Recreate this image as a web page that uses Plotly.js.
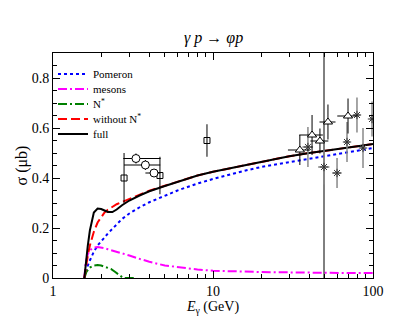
<!DOCTYPE html>
<html>
<head>
<meta charset="utf-8">
<script src="https://cdn.plot.ly/plotly-3.0.1.min.js"></script>
<style>
  html, body { margin: 0; padding: 0; background: #ffffff; }
  #chart { width: 415px; height: 321px; }
</style>
</head>
<body>
<div id="chart"></div>
<script>
// photon energy grid for the model curves (GeV)
var eCurve = [1.57, 1.6, 1.65, 1.7, 1.75, 1.8, 1.9, 2.0, 2.1, 2.2, 2.35, 2.5, 2.7, 3.0, 3.5, 4, 5, 6, 7, 8, 10, 13, 16, 20, 25, 30, 40, 50, 60, 70, 80, 100];
var pomeron = [0, 0.02, 0.05, 0.07, 0.09, 0.105, 0.13, 0.145, 0.162, 0.178, 0.198, 0.214, 0.236, 0.258, 0.284, 0.303, 0.33, 0.35, 0.365, 0.378, 0.396, 0.416, 0.43, 0.444, 0.455, 0.464, 0.478, 0.488, 0.496, 0.503, 0.509, 0.52];
var mesons = [0, 0.06, 0.095, 0.11, 0.117, 0.121, 0.124, 0.122, 0.119, 0.115, 0.11, 0.104, 0.098, 0.09, 0.076, 0.065, 0.05, 0.043, 0.038, 0.034, 0.029, 0.026, 0.025, 0.024, 0.023, 0.022, 0.021, 0.021, 0.02, 0.02, 0.02, 0.02];
var withoutN = [0, 0.04, 0.09, 0.13, 0.16, 0.185, 0.222, 0.245, 0.262, 0.273, 0.286, 0.295, 0.304, 0.316, 0.333, 0.349, 0.369, 0.386, 0.399, 0.41, 0.425, 0.44, 0.452, 0.465, 0.477, 0.487, 0.5, 0.508, 0.515, 0.521, 0.527, 0.536];
var full = [0, 0.06, 0.13, 0.19, 0.235, 0.262, 0.278, 0.276, 0.27, 0.264, 0.264, 0.274, 0.291, 0.31, 0.331, 0.347, 0.368, 0.385, 0.398, 0.41, 0.425, 0.44, 0.452, 0.465, 0.477, 0.487, 0.5, 0.508, 0.515, 0.521, 0.527, 0.536];

var eNstar = [1.57, 1.62, 1.7, 1.8, 1.9, 2.0, 2.1, 2.2, 2.3, 2.45, 2.6, 2.75, 3.0, 3.3];
var nstar = [0, 0.025, 0.042, 0.05, 0.052, 0.05, 0.045, 0.04, 0.036, 0.024, 0.01, 0, 0, 0];

// data sets
var sqE = [2.78, 4.66, 9.17];
var sqS = [0.40, 0.41, 0.55];
var sqErr = [0.10, 0.075, 0.065];

var ciE = [3.30, 3.78, 4.28];
var ciS = [0.478, 0.452, 0.42];
var ciErr = [0.02, 0.02, 0.015];
var ciEplus = [1.4, 0.9, 0.4];
var ciEminus = [0.55, 1.0, 0.5];

var trE = [34.9, 41.6, 46.6, 52.3, 69.8];
var trS = [0.512, 0.572, 0.548, 0.624, 0.648];
var trErr = [0.06, 0.08, 0.05, 0.07, 0.07];
var trEerr = [5.5, 7, 6, 6, 10];

var stE = [39.2, 49.4, 59.6, 68.8, 79.4, 86.6, 98.6];
var stS = [0.524, 0.444, 0.42, 0.544, 0.652, 0.52, 0.636];
var stErr = [0.08, 0.07, 0.06, 0.08, 0.07, 0.08, 0.07];
var stEerr = [3, 4, 4, 3, 4, 3, 3];

var wideE = [49.4];
var wideS = [0.45];
var wideErr = [0.5];

var xMinor = [2, 3, 4, 5, 6, 7, 8, 9, 20, 30, 40, 50, 60, 70, 80, 90];

var serif = 'Liberation Serif';

// one legend per entry so the rows sit as close as in the original
var legY = [0.907, 0.84, 0.773, 0.707, 0.64];
var legNames = ['legend', 'legend2', 'legend3', 'legend4', 'legend5'];

var traces = [
  {x: eCurve, y: pomeron, name: 'Pomeron', legend: 'legend', mode: 'lines', line: {color: '#0000ff', width: 2, dash: '3px,3px'}},
  {x: eCurve, y: mesons, name: 'mesons', legend: 'legend2', mode: 'lines', line: {color: '#ff00ff', width: 2, dash: '9px,3px,2px,3px'}},
  {x: eNstar, y: nstar, name: 'N<sup>*</sup>', legend: 'legend3', mode: 'lines', line: {color: '#008000', width: 2, dash: '9px,3px,2px,3px'}},
  {x: eCurve, y: withoutN, name: 'without N<sup>*</sup>', legend: 'legend4', mode: 'lines', line: {color: '#ff0000', width: 2, dash: '9px,4px'}},
  {x: eCurve, y: full, name: 'full', legend: 'legend5', mode: 'lines', line: {color: '#000000', width: 2}},
  {x: sqE, y: sqS, mode: 'markers', showlegend: false,
   marker: {symbol: 'square-open', size: 6, color: '#000000', line: {width: 1}},
   error_y: {type: 'data', array: sqErr, color: '#000000', thickness: 1, width: 0}},
  {x: ciE, y: ciS, mode: 'markers', showlegend: false,
   marker: {symbol: 'circle', size: 8, color: '#ffffff', line: {color: '#000000', width: 1}},
   error_y: {type: 'data', array: ciErr, color: '#000000', thickness: 1, width: 0},
   error_x: {type: 'data', array: ciEplus, arrayminus: ciEminus, color: '#000000', thickness: 1, width: 0}},
  {x: wideE, y: wideS, mode: 'markers', showlegend: false, marker: {size: 0.1, color: '#000000'},
   error_y: {type: 'data', array: wideErr, color: '#000000', thickness: 1, width: 0}},
  {x: stE, y: stS, mode: 'markers', showlegend: false,
   marker: {symbol: 'asterisk-open', size: 7, color: '#333333', line: {color: '#333333', width: 1}},
   error_y: {type: 'data', array: stErr, color: '#888888', thickness: 1.5, width: 0},
   error_x: {type: 'data', array: stEerr, color: '#888888', thickness: 1.5, width: 0}},
  {x: trE, y: trS, mode: 'markers', showlegend: false,
   marker: {symbol: 'triangle-up', size: 8, color: '#ffffff', line: {color: '#000000', width: 1}},
   error_y: {type: 'data', array: trErr, color: '#000000', thickness: 1, width: 0},
   error_x: {type: 'data', array: trEerr, color: '#000000', thickness: 1, width: 0}}
];

var layout = {
  width: 415,
  height: 321,
  margin: {l: 53, r: 42, t: 53, b: 43, pad: 0},
  paper_bgcolor: '#ffffff',
  plot_bgcolor: '#ffffff',
  font: {family: serif, size: 14, color: '#000000'},
  annotations: [{
    text: '<i>γ p</i> → <i>φp</i>',
    font: {family: serif, size: 16},
    xref: 'paper', yref: 'paper',
    x: 0.5, xanchor: 'center', y: 1.067, yanchor: 'middle',
    showarrow: false
  }],
  showlegend: true,
  xaxis: {
    type: 'log',
    range: [0, 2],
    tickvals: [1, 10, 100],
    ticktext: ['1', '10', '100'],
    ticks: 'inside', ticklen: 7, tickcolor: '#000000',
    minor: {tickvals: xMinor, ticks: 'inside', ticklen: 4, tickcolor: '#000000', showgrid: false},
    showgrid: false, zeroline: false,
    showline: true, linecolor: '#000000', linewidth: 1, mirror: 'allticks',
    title: {text: '<i>E</i><sub>γ</sub> (GeV)', font: {family: serif, size: 14}, standoff: 0}
  },
  yaxis: {
    range: [0, 0.9],
    tickvals: [0, 0.2, 0.4, 0.6, 0.8],
    ticktext: ['0', '0.2', '0.4', '0.6', '0.8'],
    ticks: 'inside', ticklen: 7, tickcolor: '#000000',
    minor: {dtick: 0.05, ticks: 'inside', ticklen: 4, tickcolor: '#000000', showgrid: false},
    showgrid: false, zeroline: false,
    showline: true, linecolor: '#000000', linewidth: 1, mirror: 'allticks',
    title: {text: 'σ (μb)', font: {family: serif, size: 16}, standoff: 0}
  }
};

for (var i = 0; i < legNames.length; i++) {
  layout[legNames[i]] = {
    x: 0.0, y: legY[i], xanchor: 'left', yanchor: 'middle',
    bgcolor: 'rgba(0,0,0,0)',
    font: {family: serif, size: 11}
  };
}

Plotly.newPlot('chart', traces, layout, {displayModeBar: false, staticPlot: true});
</script>
</body>
</html>
